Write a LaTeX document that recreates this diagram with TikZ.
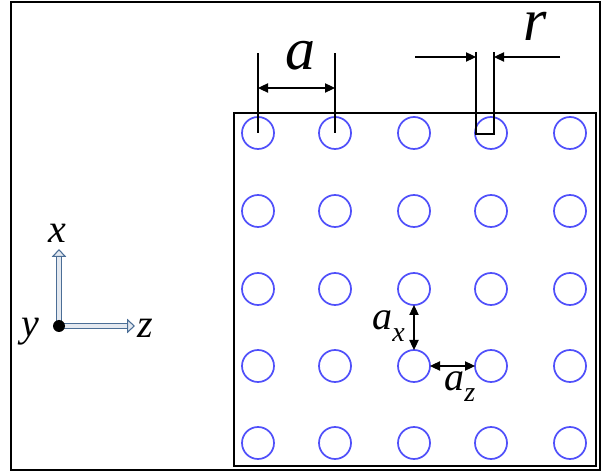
\documentclass[tikz,border=0pt]{standalone}
\usepackage{fontspec}
\setmainfont{Liberation Serif}
\usetikzlibrary{arrows.meta}
\definecolor{holeblue}{RGB}{80,80,250}
\definecolor{axisedge}{RGB}{75,110,150}
\definecolor{axisfill}{RGB}{228,233,240}
\tikzset{
  hole/.style={circle, draw=holeblue, line width=1.3pt, minimum size=24pt, inner sep=0pt, outer sep=0pt},
  dimline/.style={line width=0.8pt},
  dimarrow/.style={line width=0.8pt, -{Triangle[length=7.5pt,width=7pt]}},
  dimboth/.style={line width=0.8pt, {Triangle[length=7.5pt,width=7pt]}-{Triangle[length=7.5pt,width=7pt]}},
  axarrow/.style={draw=axisedge, line width=0.8pt, double=axisfill, double distance=3.6pt, -{Triangle[open, fill=axisfill, length=6pt, width=11pt]}},
  axdot/.style={circle, fill=black, minimum size=9pt, inner sep=0pt},
  biglabel/.style={inner sep=0pt, font=\fontsize{45}{45}\selectfont\itshape},
  axlabel/.style={inner sep=0pt, font=\fontsize{30}{30}\selectfont\itshape}
}
\newcommand{\lowsub}[1]{\raisebox{-0.3em}{\fontsize{21}{21}\selectfont #1}}
\begin{document}
\begin{tikzpicture}[x=0.75pt,y=0.75pt,yscale=-1,xscale=1]
\useasboundingbox (0,0) rectangle (606,473);

%Outer frame
\draw [line width=1.5pt] (11,2) rectangle (600,470) ;
%Lattice box
\draw [line width=0.8pt] (234,113) rectangle (596,466) ;

%Holes
\foreach \col/\cx in {1/258,2/335,3/414,4/491,5/570}
  \foreach \row/\cy in {1/133,2/211,3/289,4/366,5/443}
    \node [hole] (h\row\col) at (\cx,\cy) {};

%Dimension a
\coordinate (aTopL) at (258,53);
\coordinate (aTopR) at (335,53);
\coordinate (aArrL) at (258,88);
\coordinate (aArrR) at (335,88);
\draw [dimline] (h11.center) -- (aTopL) ;
\draw [dimline] (h12.center) -- (aTopR) ;
\draw [dimboth] (aArrL) -- (aArrR) ;

%Dimension r
\coordinate (rTopL) at (476,52);
\coordinate (rTopR) at (494,52);
\coordinate (rBotL) at (476,134);
\coordinate (rBotR) at (494,134);
\coordinate (rFromL) at (415,57);
\coordinate (rTipL) at (476,57);
\coordinate (rFromR) at (560,57);
\coordinate (rTipR) at (494,57);
\draw [dimline] (rTopL) -- (rBotL) -- (rBotR) -- (rTopR) ;
\draw [dimarrow] (rFromL) -- (rTipL) ;
\draw [dimarrow] (rFromR) -- (rTipR) ;

%Spacings ax and az
\draw [dimboth] (h33.south) -- (h43.north) ;
\draw [dimboth] (h43.east) -- (h44.west) ;

%Axes
\coordinate (origin) at (59,326);
\coordinate (xtip) at (59,249);
\coordinate (ztip) at (135,326);
\draw [axarrow] (origin) -- (xtip) ;
\draw [axarrow] (origin) -- (ztip) ;
\node [axdot] (dot) at (origin) {};

% Text Node
\node [biglabel, anchor=base west] (alabel) at (285,70) {a};
% Text Node
\node [biglabel, anchor=base west] (rlabel) at (523,41) {r};
% Text Node
\node [axlabel, anchor=base] (xlabel) at (57,243) {x};
% Text Node
\node [axlabel, anchor=base west] (ylabel) at (21,337) {y};
% Text Node
\node [axlabel, anchor=base west] (zlabel) at (137,338) {z};
% Text Node
\node [axlabel, anchor=base west] (axlabel) at (372,330) {a\lowsub{x}};
% Text Node
\node [axlabel, anchor=base west] (azlabel) at (444,390) {a\lowsub{z}};

\end{tikzpicture}
\end{document}
